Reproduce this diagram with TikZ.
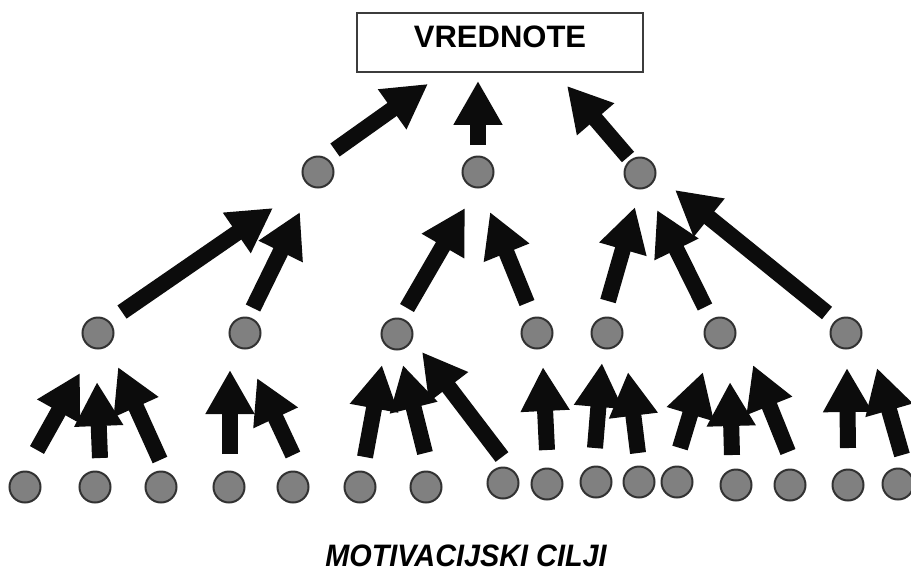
\documentclass[tikz,border=0pt]{standalone}
\usepackage{fontspec}
\newfontfamily\hv{Liberation Sans}
\usetikzlibrary{arrows.meta,calc}
\definecolor{dotfill}{RGB}{128,128,128}
\definecolor{dotline}{RGB}{50,50,50}
\definecolor{boxline}{RGB}{60,60,60}
\definecolor{ink}{RGB}{12,12,12}
\tikzset{
  dot/.style={circle, draw=dotline, line width=1pt, fill=dotfill, minimum size=15.5pt, inner sep=0pt},
  arr/.style={draw=ink, line width=8pt, -{Triangle[width=23pt,length=22pt]}, ink},
  titlebox/.style={draw=boxline, line width=0.9pt, minimum width=143pt, minimum height=29.5pt, inner sep=0pt},
}
\begin{document}
\begin{tikzpicture}[x=0.5pt,y=-0.5pt]
\useasboundingbox[fill=white] (0,0) rectangle (911,570);
% box
\node[titlebox] (box) at (500,42.5) {};
\node[anchor=base, font=\hv\bfseries\fontsize{15.5}{18}\selectfont] (vt) at (500,47) {VREDNOTE};
% top dots
\node[dot] (t1) at (318,172) {};
\node[dot] (t2) at (478,172) {};
\node[dot] (t3) at (640,173) {};
% middle dots
\node[dot] (m1) at (98,333) {};
\node[dot] (m2) at (245,333) {};
\node[dot] (m3) at (397,334) {};
\node[dot] (m4) at (537,333) {};
\node[dot] (m5) at (607,333) {};
\node[dot] (m6) at (720,333) {};
\node[dot] (m7) at (846,333) {};
% bottom dots
\node[dot] (b1) at (25,487) {};
\node[dot] (b2) at (95,487) {};
\node[dot] (b3) at (161,487) {};
\node[dot] (b4) at (229,487) {};
\node[dot] (b5) at (293,487) {};
\node[dot] (b6) at (360,487) {};
\node[dot] (b7) at (426,487) {};
\node[dot] (b8) at (503,483) {};
\node[dot] (b9) at (547,484) {};
\node[dot] (b10) at (596,482) {};
\node[dot] (b11) at (639,482) {};
\node[dot] (b12) at (677,482) {};
\node[dot] (b13) at (736,485) {};
\node[dot] (b14) at (790,485) {};
\node[dot] (b15) at (848,485) {};
\node[dot] (b16) at (898,484) {};
% top arrows
\draw[arr] ($(t1)+(17,-22)$) -- ($(box.south)+(-72,11)$);
\draw[arr] ($(t2)+(0,-27)$) -- ($(box.south)+(-22,8)$);
\draw[arr] ($(t3)+(-12,-16)$) -- ($(box.south)+(67,13)$);
% middle arrows
\draw[arr] ($(m1)+(24,-21)$) -- ($(t1)+(-45,36)$);
\draw[arr] ($(m2)+(8,-25)$) -- ($(t1)+(-18,40)$);
\draw[arr] ($(m3)+(10,-26)$) -- ($(t2)+(-13,36)$);
\draw[arr] ($(m4)+(-10,-30)$) -- ($(t2)+(12,40)$);
\draw[arr] ($(m5)+(1,-32)$) -- ($(t3)+(-5,34)$);
\draw[arr] ($(m6)+(-15,-26)$) -- ($(t3)+(17,37)$);
\draw[arr] ($(m7)+(-19,-20)$) -- ($(t3)+(35,17)$);
% bottom arrows
\draw[arr] ($(b1)+(12,-37)$) -- ($(m1)+(-18,40)$);
\draw[arr] ($(b2)+(5,-29)$) -- ($(m1)+(-1,49)$);
\draw[arr] ($(b3)+(-1,-27)$) -- ($(m1)+(20,34)$);
\draw[arr] ($(b4)+(1,-33)$) -- ($(m2)+(-15,37)$);
\draw[arr] ($(b5)+(0,-32)$) -- ($(m2)+(12,45)$);
\draw[arr] ($(b6)+(5,-30)$) -- ($(m3)+(-15,31)$);
\draw[arr] ($(b7)+(-1,-34)$) -- ($(m3)+(6,31)$);
\draw[arr] ($(b8)+(-1,-26)$) -- ($(m3)+(25,18)$);
\draw[arr] ($(b9)+(0,-34)$) -- ($(m4)+(6,34)$);
\draw[arr] ($(b10)+(-1,-34)$) -- ($(m5)+(-5,30)$);
\draw[arr] ($(b11)+(-1,-29)$) -- ($(m5)+(21,39)$);
\draw[arr] ($(b12)+(3,-34)$) -- ($(m6)+(-17,39)$);
\draw[arr] ($(b13)+(-4,-30)$) -- ($(m6)+(10,49)$);
\draw[arr] ($(b14)+(-2,-33)$) -- ($(m6)+(33,32)$);
\draw[arr] ($(b15)+(0,-37)$) -- ($(m7)+(1,35)$);
\draw[arr] ($(b16)+(4,-29)$) -- ($(m7)+(31,35)$);
% caption
\node[anchor=base, font=\hv\bfseries\itshape\fontsize{15.5}{18}\selectfont] (cap) at (466,566) {\scalebox{0.93}[1]{MOTIVACIJSKI CILJI}};
\end{tikzpicture}
\end{document}
